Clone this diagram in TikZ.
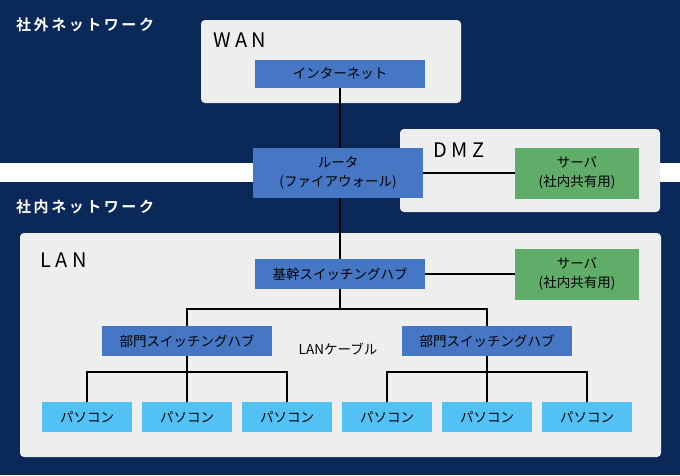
\documentclass[tikz,border=0pt]{standalone}
\usepackage{fontspec}
\setmainfont{Noto Sans CJK JP}[BoldFont={Noto Sans CJK JP Bold}]
\newfontfamily\zonefont[LetterSpace=17]{Noto Sans CJK JP Bold}
\newfontfamily\areafont[LetterSpace=22]{Noto Sans CJK JP}
\usetikzlibrary{positioning}
\definecolor{navy}{RGB}{10,40,88}
\definecolor{areabg}{RGB}{238,238,238}
\definecolor{hubcol}{RGB}{70,119,197}
\definecolor{srvcol}{RGB}{96,173,106}
\definecolor{pccol}{RGB}{82,194,245}

\begin{document}
\begin{tikzpicture}[x=1pt,y=-1pt,font=\fontsize{13.5}{19}\selectfont,
  area/.style={fill=areabg,rounded corners=4pt},
  hub/.style={fill=hubcol,minimum width=170pt,minimum height=30pt,inner sep=0pt,align=center},
  srv/.style={fill=srvcol,minimum width=124pt,minimum height=51pt,inner sep=0pt,align=center},
  pc/.style={fill=pccol,minimum width=90pt,minimum height=30pt,inner sep=0pt},
  zone/.style={white,anchor=west,inner sep=0pt,font=\zonefont\fontsize{15}{15}\selectfont},
  arealbl/.style={anchor=west,inner sep=0pt,font=\areafont\fontsize{20}{20}\selectfont},
  wire/.style={line width=2pt}]
  % background, white band between outside and inside
  \fill[navy] (0,0) rectangle (680,475);
  \useasboundingbox (0,0) rectangle (680,475);
  \fill[white] (0,163) rectangle (680,182);
  % the three areas
  \fill[area] (201,20) rectangle (461,103);
  \fill[area] (400,129) rectangle (660,212);
  \fill[area] (20,233) rectangle (661,457);
  \node[zone] (outside) at (16,25) {社外ネットワーク};
  \node[zone] (inside) at (16,207) {社内ネットワーク};
  \node[arealbl] (wanlbl) at (213,40) {WAN};
  \node[arealbl] (dmzlbl) at (433,150) {DMZ};
  \node[arealbl] (lanlbl) at (40,260) {LAN};
  % devices
  \node[hub,minimum height=28pt] (inet) at (340,74) {インターネット};
  \node[hub,minimum height=50pt] (rtr) at (338,173) {ルータ\\(ファイアウォール)};
  \node[srv] (dmzsrv) at (577,173) {サーバ\\(社内共有用)};
  \node[hub] (core) at (340,274) {基幹スイッチングハブ};
  \node[srv] (lansrv) at (577,274) {サーバ\\(社内共有用)};
  \node[hub] (dept1) at (187,341) {部門スイッチングハブ};
  \node[hub] (dept2) at (487,341) {部門スイッチングハブ};
  \node[inner sep=0pt] (cable) at (338,349) {LANケーブル};
  \foreach \i/\x in {1/87,2/187,3/287,4/387,5/487,6/587}
    \node[pc] (pc\i) at (\x,417) {パソコン};
  % cables
  \coordinate (bus0) at (340,309);
  \coordinate (bus1) at (187,372);
  \coordinate (bus2) at (487,372);
  \draw[wire] (inet.south) -- (inet.south |- rtr.north);
  \draw[wire] (core.north |- rtr.south) -- (core.north);
  \draw[wire] (rtr.east) -- (dmzsrv.west);
  \draw[wire] (core.east) -- (lansrv.west);
  \draw[wire] (core.south) -- (bus0);
  \draw[wire] (dept1) |- (bus0) -| (dept2);
  \draw[wire] (dept1) -- (pc2);
  \draw[wire] (pc1) |- (bus1) -| (pc3);
  \draw[wire] (dept2) -- (pc5);
  \draw[wire] (pc4) |- (bus2) -| (pc6);
\end{tikzpicture}
\end{document}
